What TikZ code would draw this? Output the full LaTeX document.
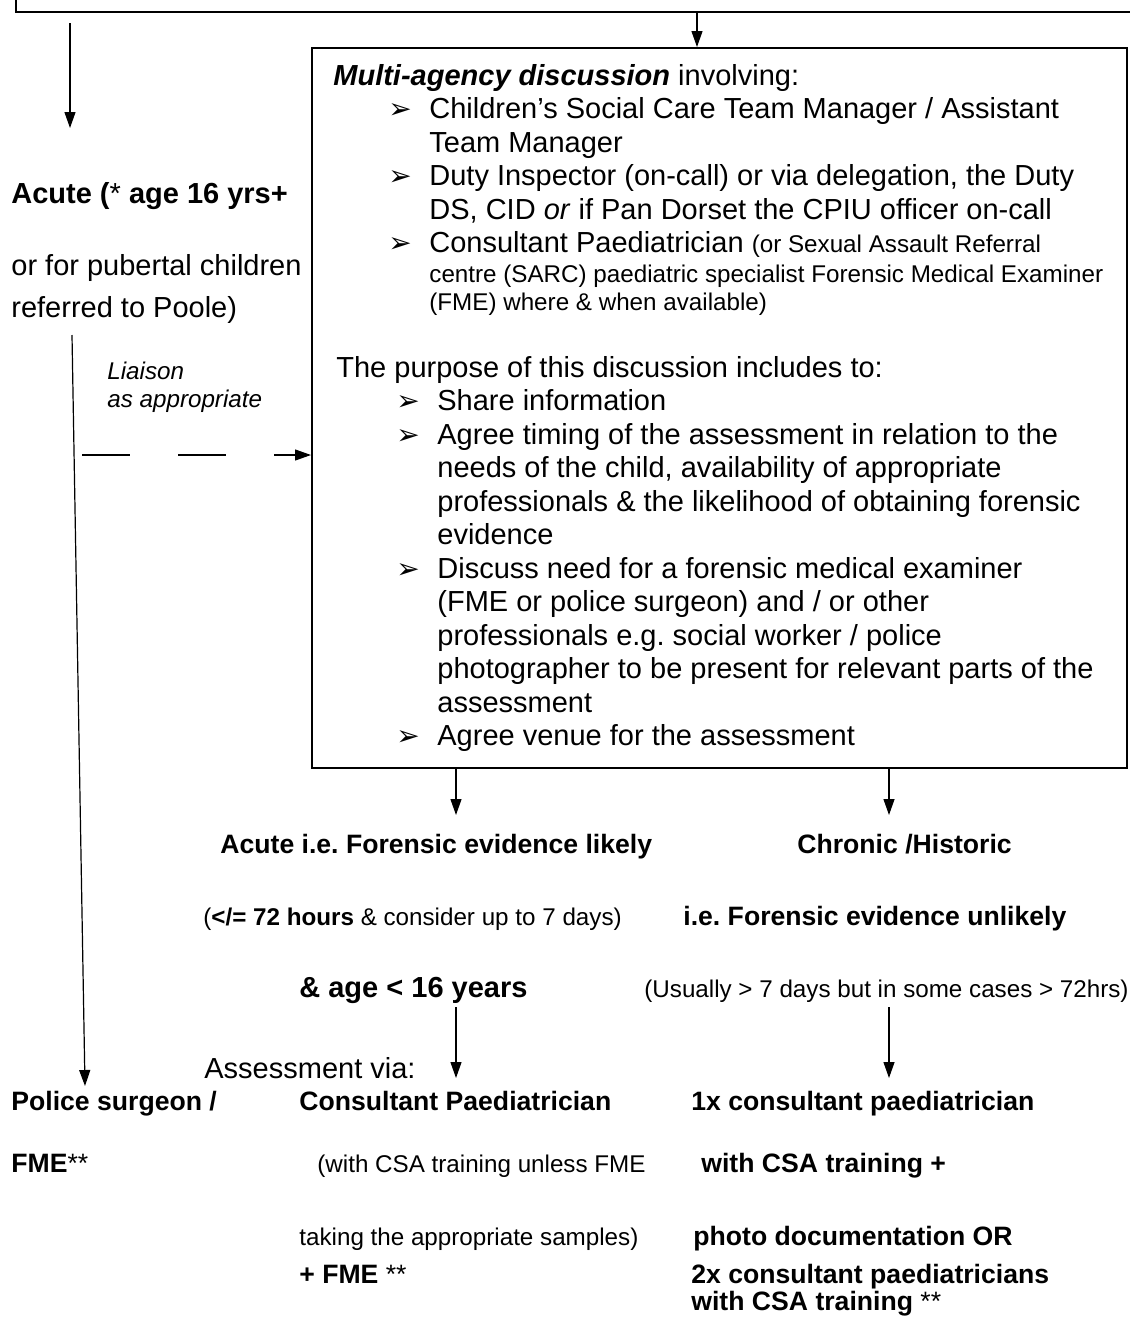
\documentclass[tikz,border=0pt]{standalone}
\usepackage{fontspec}
\setmainfont{Liberation Sans}
\newfontfamily\arrowfont{DejaVu Sans}
\usetikzlibrary{arrows.meta}
\frenchspacing
% tailles (1 px = 0.5pt)
\newcommand\tw{\fontsize{14.5}{16.75}\selectfont}
\newcommand\el{\fontsize{13.3}{13.5}\selectfont}
\newcommand\te{\fontsize{12.1}{14}\selectfont}
\newcommand\bul{\llap{\makebox[20.5pt][l]{\arrowfont\fontsize{14}{14}\selectfont ➢}}}
\tikzset{
  txt/.style={anchor=base west, inner sep=0pt, align=left},
  fl/.style={-{Triangle[length=8pt,width=5.5pt]}, line width=0.6pt},
  box/.style={draw, line width=1pt, inner sep=0pt}
}
\begin{document}
\begin{tikzpicture}[x=0.5pt,y=-0.5pt]
            \clip (0,0) rectangle (1130,1318);
            % Cadres
            \node[box, minimum width=567pt, minimum height=36pt] (top) at (583,-24) {};
            \node[box, minimum width=407.5pt, minimum height=360pt] (disc) at (719.5,408) {};
            % Colonne de gauche (multi-lignes : ancre sur la derniere ligne)
            \node[txt, font=\tw\bfseries] (acuteL) at (11,203) {Acute (\mdseries*\bfseries{} age 16 yrs+};
            \node[txt, font=\tw] (puber) at (11,275) {or for pubertal children};
            \node[txt, font=\tw] (poole) at (11,317) {referred to Poole)};
            \node[txt, font=\te\itshape] (liaison) at (107,407) {Liaison\\as appropriate};
            % Discussion
            \node[txt, font=\tw] (head) at (333,85) {\textbf{\textit{Multi-agency discussion}} involving:};
            \node[txt, font=\tw] (care) at (429,152) {\bul Children’s Social Care Team Manager / Assistant\\Team Manager};
            \node[txt, font=\tw] (duty) at (429,219) {\bul Duty Inspector (on-call) or via delegation, the Duty\\DS, CID \textit{or} if Pan Dorset the CPIU officer on-call};
            \node[txt, font=\tw] (paed) at (429,252.5) {\bul Consultant Paediatrician {\te (or Sexual Assault Referral}};
            \node[txt, font=\te] (sarc) at (429,310) {centre (SARC) paediatric specialist Forensic Medical Examiner\\(FME) where \& when available)};
            \node[txt, font=\tw] (purp) at (336,377) {The purpose of this discussion includes to:};
            \node[txt, font=\tw] (share) at (437,745.5) {\bul Share information\\
              \bul Agree timing of the assessment in relation to the\\
              needs of the child, availability of appropriate\\
              professionals \& the likelihood of obtaining forensic\\
              evidence\\
              \bul Discuss need for a forensic medical examiner\\
              (FME or police surgeon) and / or other\\
              professionals e.g. social worker / police\\
              photographer to be present for relevant parts of the\\
              assessment\\
              \bul Agree venue for the assessment};
            % Branches
            \node[txt, font=\el\bfseries] (acute) at (220,853) {Acute i.e. Forensic evidence likely};
            \node[txt, font=\el\bfseries] (chronic) at (797,853) {Chronic /Historic};
            \node[txt, font=\te] (hours) at (203,925) {(\textbf{</= 72 hours} \& consider up to 7 days)};
            \node[txt, font=\el\bfseries] (unlikely) at (683,925) {i.e. Forensic evidence unlikely};
            \node[txt, font=\tw\bfseries] (age) at (299,997) {\& age < 16 years};
            \node[txt, font=\te] (usually) at (644,997) {(Usually > 7 days but in some cases > 72hrs)};
            % Evaluation
            \node[txt, font=\tw] (via) at (204,1078) {Assessment via:};
            \node[txt, font=\el\bfseries] (police) at (11,1110) {Police surgeon /};
            \node[txt, font=\el] (fme) at (11,1172) {\textbf{FME}**};
            \node[txt, font=\el\bfseries] (cons) at (299,1110) {Consultant Paediatrician};
            \node[txt, font=\te] (csa) at (317,1172) {(with CSA training unless FME};
            \node[txt, font=\te] (samples) at (299,1245) {taking the appropriate samples)};
            \node[txt, font=\el] (plusfme) at (299,1283) {\textbf{+ FME} **};
            \node[txt, font=\el\bfseries] (onex) at (691,1110) {1x consultant paediatrician};
            \node[txt, font=\el\bfseries] (withcsa) at (701,1172) {with CSA training +};
            \node[txt, font=\el\bfseries] (photo) at (693,1245) {photo documentation OR};
            \node[txt, font=\el] (twox) at (691,1310) {\textbf{2x consultant paediatricians}\\\textbf{with CSA training} **};
            % Fleches
            \coordinate (t1) at (697,12);
            \coordinate (l1) at (70,23);
            \coordinate (l2) at (70,128);
            \coordinate (s1) at (72,335);
            \coordinate (s2) at (85,1086);
            \coordinate (d1) at (82,455);
            \draw[fl] (t1) -- (t1 |- disc.north);
            \draw[fl] (l1) -- (l2);
            \draw[fl] (s1) -- (s2);
            \draw[fl, dash pattern=on 24pt off 24pt] (d1) -- (d1 -| disc.west);
            \foreach \x/\n in {456/a, 889/b} {
                \coordinate (\n1) at (\x,815);
                \coordinate (\n2) at (\x,1007);
                \coordinate (\n3) at (\x,1078);
                \draw[fl] (disc.south -| \n1) -- (\n1);
                \draw[fl] (\n2) -- (\n3);
            }
\end{tikzpicture}
\end{document}
